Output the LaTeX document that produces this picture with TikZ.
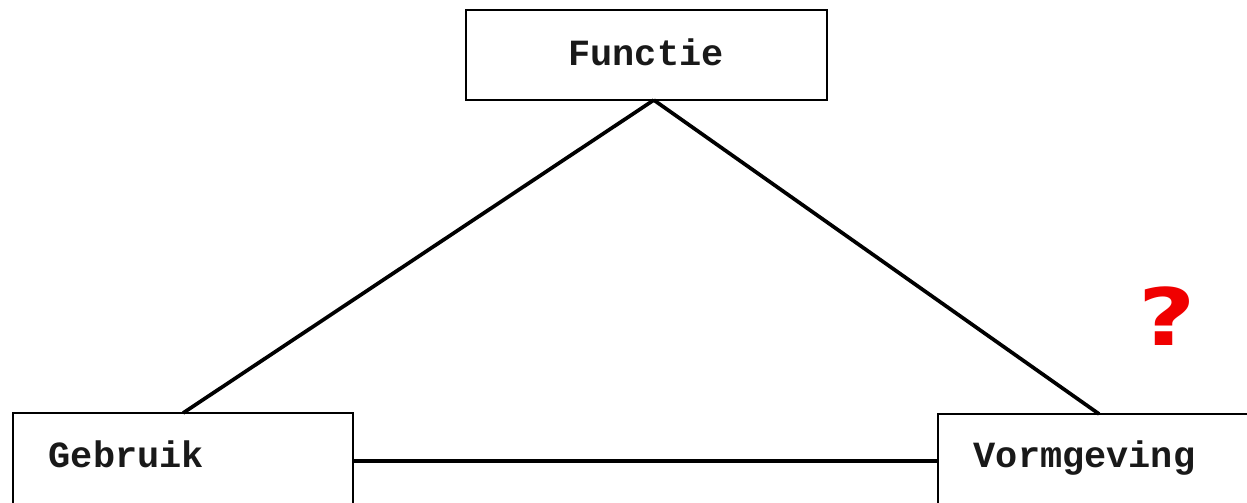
\documentclass[tikz,border=0pt]{standalone}
\usepackage{fontspec}
\setmonofont{Liberation Mono}
\newfontfamily\qfont{DejaVu Sans}
\usetikzlibrary{calc}
\definecolor{qred}{RGB}{240,0,0}
\tikzset{
  box/.style={draw=black, line width=0.7pt, fill=white, inner sep=0pt, outer sep=0pt},
  lbl/.style={font=\ttfamily\bfseries\fontsize{10.5pt}{12pt}\selectfont, inner sep=0pt, text=black!90},
  conn/.style={draw=black, line width=1.05pt}
}
\begin{document}
\begin{tikzpicture}[x=0.01cm,y=-0.01cm]
\useasboundingbox (0,0) rectangle (1247,503);
\clip (0,0) rectangle (1247,503);
\fill[white] (0,0) rectangle (1247,503);
% boxes
\node[box, anchor=north west, minimum width=3.61cm, minimum height=0.90cm] (f) at (466,10) {};
\node[box, anchor=north west, minimum width=3.40cm, minimum height=0.96cm] (g) at (13,413) {};
\node[box, anchor=north west, minimum width=3.22cm, minimum height=0.96cm] (v) at (938,414) {};
% labels
\node[lbl, anchor=base] (ft) at (646,65) {Functie};
\node[lbl, anchor=base west] (gt) at (48,467) {Gebruik};
\node[lbl, anchor=base west] (vt) at (973,467) {Vormgeving};
% connectors
\coordinate (apex) at ($(f.south west)!0.52!(f.south east)$);
\draw[conn] (apex) -- (g.north);
\draw[conn] (apex) -- (v.north);
\draw[conn] (g.east |- 0,461) -- (v.west |- 0,461);
% red question mark
\node[font=\qfont\bfseries\fontsize{22.5pt}{24pt}\selectfont, text=qred, inner sep=0pt, anchor=base, xscale=1.25] (q) at (1167,346) {?};
\end{tikzpicture}
\end{document}
